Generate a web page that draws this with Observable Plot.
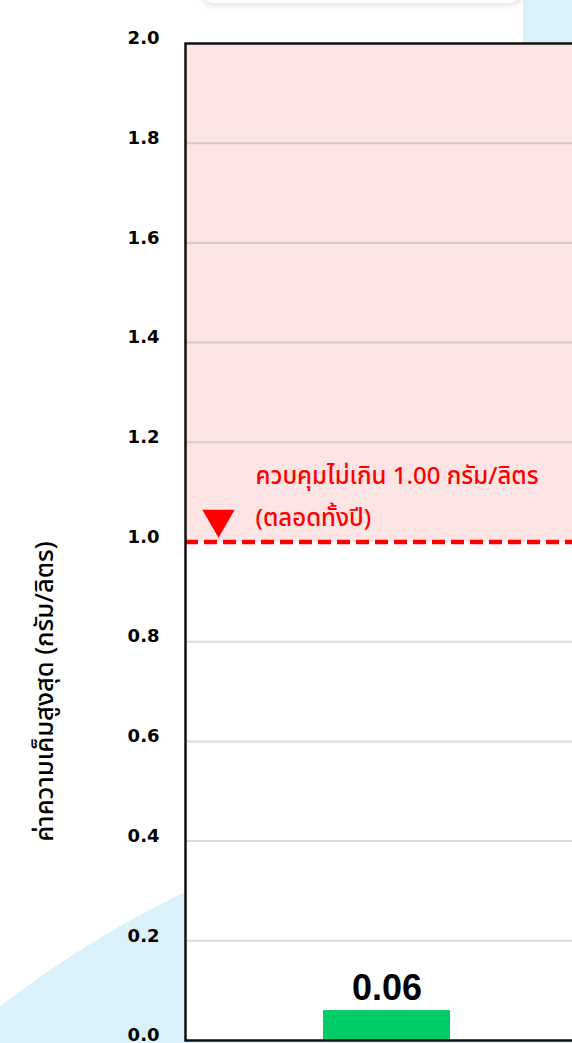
<!DOCTYPE html>
<html>
<head>
<meta charset="utf-8">
<script src="https://cdn.jsdelivr.net/npm/d3@7"></script>
<script src="https://cdn.jsdelivr.net/npm/@observablehq/plot@0.6"></script>
<style>
  html, body { margin: 0; padding: 0; width: 572px; height: 1043px; overflow: hidden; background: #ffffff; }
  #bg-circle { position: absolute; left: -415px; top: 785px; width: 2130px; height: 2130px; border-radius: 50%; background: #dbf1fa; }
  #bg-right { position: absolute; left: 523px; top: 0; width: 80px; height: 1043px; background: #dbf1fa; }
  #bg-card { position: absolute; left: 200px; top: -40px; width: 323px; height: 43px; background: #fff; border-radius: 0 0 14px 14px; box-shadow: 0 2px 6px rgba(0,0,0,0.13); }
  #chart { position: absolute; left: 0; top: 0; width: 588px; }
  #chart svg { background: transparent !important; overflow: visible; max-width: none !important; }
</style>
</head>
<body>
<div id="bg-circle"></div>
<div id="bg-right"></div>
<div id="bg-card"></div>
<div id="chart"></div>
<script>
// ---- data ----
const categories = ["จุดตรวจวัด"];
const maxSalinity = [0.06];
const yTicks = [0, 0.2, 0.4, 0.6, 0.8, 1.0, 1.2, 1.4, 1.6, 1.8, 2.0];
const gridTicks = [0.2, 0.4, 0.6, 0.8, 1.2, 1.4, 1.6, 1.8];
const threshold = [1.0];
const dangerBand = [{y1: 1.0, y2: 2.0}];
const thresholdText = ["ควบคุมไม่เกิน 1.00 กรัม/ลิตร\n(ตลอดทั้งปี)"];
const yLabel = ["ค่าความเค็มสูงสุด (กรัม/ลิตร)"];
const yLabelPos = [0.7];

const bars = categories.map((c, i) => ({station: c, value: maxSalinity[i]}));
const thaiFont = "Tahoma, 'Noto Sans Thai', 'Noto Sans Thai Looped', Garuda, Loma, 'Noto Sans', sans-serif";

const chart = Plot.plot({
  width: 588,
  height: 1043,
  marginLeft: 185,
  marginRight: 0,
  marginTop: 43,
  marginBottom: 3,
  style: {background: "transparent", fontFamily: "DejaVu Sans, sans-serif", maxWidth: "none"},
  x: {domain: categories, padding: 0.52, axis: null},
  y: {domain: [0, 2], axis: null},
  marks: [
    Plot.frame({fill: "#ffffff", stroke: "none"}),
    Plot.barY(dangerBand, {y1: "y1", y2: "y2", fill: "#fde4e4"}),
    Plot.ruleY(gridTicks, {stroke: "#999999", strokeOpacity: 0.35, strokeWidth: 2}),
    Plot.ruleY(threshold, {stroke: "#ff0000", strokeWidth: 4.5, strokeDasharray: "13,6"}),
    Plot.dot(threshold, {y: d => d, frameAnchor: "left", dx: 33, dy: -23, symbol: "triangle", rotate: 180, r: 12, fill: "#ff0000", stroke: "none"}),
    Plot.text(thresholdText, {y: threshold[0], frameAnchor: "left", dx: 70, dy: -16, textAnchor: "start", lineAnchor: "bottom", lineHeight: 1.75, fill: "#ff0000", fontSize: 24, fontWeight: 500, fontFamily: thaiFont}),
    Plot.barY(bars, {x: "station", y: "value", fill: "#00cc66"}),
    Plot.text(bars, {x: "station", y: "value", text: d => d.value.toFixed(2), lineAnchor: "bottom", dy: -11, fontSize: 36, fontWeight: "bold", fontFamily: "Liberation Sans, Arial, sans-serif", fill: "#000"}),
    Plot.axisY(yTicks, {tickSize: 0, tickPadding: 26, tickFormat: d => d.toFixed(1), fontSize: 18, fontWeight: "bold", fill: "#000", dy: -5, fontFamily: "DejaVu Sans, sans-serif"}),
    Plot.text(yLabel, {y: yLabelPos, frameAnchor: "left", textAnchor: "middle", dx: -141, rotate: -90, fontSize: 25.5, fontWeight: 500, fill: "#000", fontFamily: thaiFont}),
    Plot.frame({stroke: "#111111", strokeWidth: 2.5})
  ]
});
document.getElementById("chart").appendChild(chart);
</script>
</body>
</html>
